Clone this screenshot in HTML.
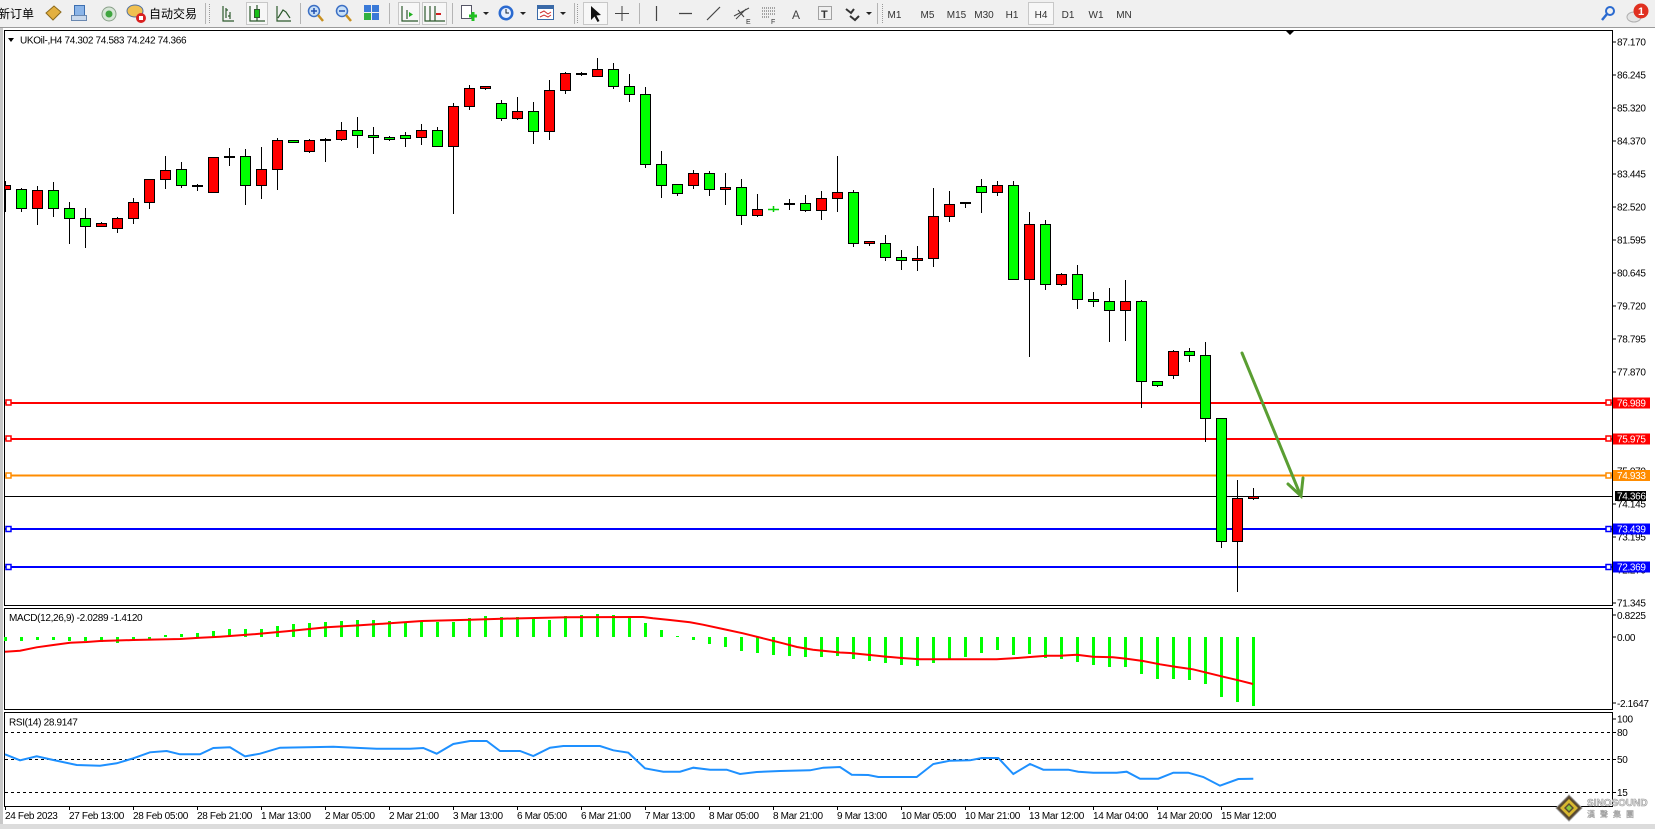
<!DOCTYPE html>
<html><head><meta charset="utf-8">
<style>
html,body{margin:0;padding:0;background:#fff;}
body{width:1655px;height:829px;overflow:hidden;}
svg{display:block;}
text{font-family:"Liberation Sans","Noto Sans CJK SC",sans-serif;font-size:10px;letter-spacing:-0.33px;fill:#000;}
.tb{font-size:10px;fill:#333;letter-spacing:0;}
.cj{font-size:12px;letter-spacing:0;}
.wl{fill:#fff;}
</style></head>
<body>
<svg width="1655" height="829" viewBox="0 0 1655 829" xmlns="http://www.w3.org/2000/svg">
<defs>
<clipPath id="cm"><rect x="5" y="31" width="1607" height="574"/></clipPath>
</defs>
<rect width="1655" height="829" fill="#fff"/>
<!-- toolbar -->
<rect x="0" y="0" width="1655" height="27" fill="#f0f0f0"/>
<line x1="0" y1="27.5" x2="1655" y2="27.5" stroke="#9a9a9a"/>
<text class="cj" x="-2" y="18">新订单</text>
<polygon points="46,13 54,6 61,12 53,20" fill="#e3b040" stroke="#8c6a1c"/>
<rect x="74.5" y="5.5" width="10" height="10" fill="#8ab4e8" stroke="#3d6fb0"/>
<rect x="71.5" y="15.5" width="15" height="5" fill="#c8d8ec" stroke="#6a88b0"/>
<circle cx="109" cy="14" r="7" fill="#d6e6d6" stroke="#8aa08a"/>
<circle cx="109" cy="14" r="3.5" fill="#3fa53f"/>
<ellipse cx="135" cy="11" rx="8" ry="6" fill="#f0c050" stroke="#5070a0"/>
<circle cx="141" cy="18" r="5" fill="#d92020"/>
<rect x="139" y="16" width="4" height="4" fill="#fff"/>
<text class="cj" x="149" y="18">自动交易</text>
<g stroke="#b4b4b4"><line x1="205.5" y1="3" x2="205.5" y2="24"/><line x1="300.5" y1="3" x2="300.5" y2="24"/><line x1="389.5" y1="3" x2="389.5" y2="24"/><line x1="452.5" y1="3" x2="452.5" y2="24"/><line x1="574.5" y1="3" x2="574.5" y2="24"/><line x1="639.5" y1="3" x2="639.5" y2="24"/><line x1="877.5" y1="3" x2="877.5" y2="24"/></g>
<g stroke="#999" stroke-dasharray="1 1"><line x1="209.5" y1="4" x2="209.5" y2="24"/><line x1="577.5" y1="4" x2="577.5" y2="24"/><line x1="882.5" y1="4" x2="882.5" y2="24"/></g>
<g fill="#f7f7f7" stroke="#c8c8c8"><rect x="246.5" y="2.5" width="21" height="22"/><rect x="398.5" y="2.5" width="21" height="22"/><rect x="422.5" y="2.5" width="24" height="22"/><rect x="583.5" y="2.5" width="24" height="22"/><rect x="1028.5" y="2.5" width="25" height="22"/></g>
<g stroke="#2d5a2d" stroke-width="1.2" fill="none">
<path d="M223 6V21H234M226 8V18M226 10H228M230 12V19M228 16H230"/>
<path d="M250 6V21H265M257 5V21"/>
<path d="M277 6V21H291M278 18L283 10L286 12L290 18"/>
<path d="M402 6V21H418M407 10V19"/>
<path d="M425 6V21H445M430 6V21M435 6V21"/>
</g>
<rect x="254.5" y="9.5" width="5" height="8" fill="#18c018" stroke="#2d5a2d"/>
<polygon points="409,12 413,14.5 409,17" fill="#20b020"/>
<line x1="436" y1="14" x2="441" y2="14" stroke="#d02020" stroke-width="2"/>
<circle cx="314" cy="11" r="5.5" fill="#c8e0f8" stroke="#3b6fc4" stroke-width="1.5"/><line x1="318" y1="15" x2="323" y2="21" stroke="#c89020" stroke-width="2.5"/><path d="M311 11H317M314 8V14" stroke="#2050b0" stroke-width="1.5"/>
<circle cx="342" cy="11" r="5.5" fill="#c8e0f8" stroke="#3b6fc4" stroke-width="1.5"/><line x1="346" y1="15" x2="351" y2="21" stroke="#c89020" stroke-width="2.5"/><path d="M339 11H345" stroke="#2050b0" stroke-width="1.5"/>
<rect x="364" y="5" width="7" height="7" fill="#3a7ad8"/><rect x="372" y="5" width="7" height="7" fill="#3a7ad8"/><rect x="364" y="13" width="7" height="7" fill="#30b040"/><rect x="372" y="13" width="7" height="7" fill="#3a7ad8"/>
<rect x="461.5" y="5.5" width="10" height="13" fill="#fff" stroke="#556"/><path d="M469 16H477M473 12V21" stroke="#20c020" stroke-width="3"/>
<polygon points="483,12 489,12 486,15" fill="#222"/>
<circle cx="506" cy="13" r="7.5" fill="#2a6ad0"/><circle cx="506" cy="13" r="5" fill="#e8f0ff"/><path d="M506 9V13H509" stroke="#123" fill="none"/>
<polygon points="520,12 526,12 523,15" fill="#222"/>
<rect x="537.5" y="5.5" width="16" height="14" fill="#fff" stroke="#3a6aa8"/><rect x="538" y="6" width="15" height="3" fill="#3a6aa8"/><path d="M540 13L544 11L548 14L551 12M540 17L544 15L548 17L551 15" stroke="#d03030" fill="none"/>
<polygon points="560,12 566,12 563,15" fill="#222"/>
<polygon points="591,6 591,20 594.5,16.5 597.5,22 599.5,21 596.5,15.5 601,15" fill="#111"/>
<path d="M615 13.5H629M622 6V21" stroke="#444"/>
<path d="M656.5 6V21M679 13.5H692M707 20L720 7" stroke="#444" stroke-width="1.2"/>
<path d="M734 16L749 8M736 19L746 9M738 10L744 17" stroke="#444"/><text class="tb" x="746" y="24" style="font-size:7px">E</text>
<path d="M762 8H776M762 11H776M762 14H776M762 17H770" stroke="#555" stroke-dasharray="1 1"/><text class="tb" x="771" y="24" style="font-size:7px">F</text>
<text class="tb" x="792" y="19" style="font-size:12px;fill:#444">A</text>
<rect x="818.5" y="6.5" width="13" height="13" fill="none" stroke="#555" stroke-dasharray="1 1"/><text class="tb" x="821" y="18" style="font-size:11px;fill:#333;font-weight:bold">T</text>
<path d="M846 9L851 13L854 9M850 16L855 20L859 16" stroke="#333" stroke-width="2" fill="none"/>
<polygon points="866,12 872,12 869,15" fill="#222"/>
<g text-anchor="middle"><text class="tb" x="894.5" y="18">M1</text><text class="tb" x="927.5" y="18">M5</text><text class="tb" x="956.5" y="18">M15</text><text class="tb" x="984" y="18">M30</text><text class="tb" x="1012" y="18">H1</text><text class="tb" x="1041" y="18">H4</text><text class="tb" x="1068" y="18">D1</text><text class="tb" x="1096" y="18">W1</text><text class="tb" x="1124" y="18">MN</text></g>
<circle cx="1610" cy="11" r="4" fill="none" stroke="#2a6ad0" stroke-width="2"/><line x1="1607" y1="14" x2="1602" y2="20" stroke="#2a6ad0" stroke-width="2.5"/>
<ellipse cx="1634" cy="17" rx="7" ry="5" fill="#e4e4e4" stroke="#b0b0b0"/>
<circle cx="1641" cy="11" r="7.5" fill="#e03020"/><text x="1641" y="15" text-anchor="middle" style="fill:#fff;font-weight:bold;font-size:11px;letter-spacing:0">1</text>

<!-- left and bottom gray strips -->
<rect x="0" y="28" width="3" height="801" fill="#c8c8c8"/>
<rect x="0" y="824" width="1655" height="5" fill="#dcdcdc"/>

<!-- pane frames -->
<g fill="none" stroke="#000">
<rect x="4.5" y="30.5" width="1608" height="575"/>
<rect x="4.5" y="608.5" width="1608" height="101"/>
<rect x="4.5" y="712.5" width="1608" height="94"/>
</g>
<polygon points="1286,31 1294,31 1290,35" fill="#000"/>

<!-- header -->
<polygon points="8,38 14,38 11,42" fill="#000"/>
<text x="20" y="43.5">UKOil-,H4  74.302 74.583 74.242 74.366</text>

<!-- price axis -->
<g stroke="#000">
<path d="M1613 42H1616M1613 75H1616M1613 108H1616M1613 141H1616M1613 174H1616M1613 207H1616M1613 240H1616M1613 273H1616M1613 306H1616M1613 339H1616M1613 372H1616M1613 405H1616M1613 438H1616M1613 471H1616M1613 504H1616M1613 537H1616M1613 570H1616M1613 603H1616"/>
</g>
<g>
<text x="1617" y="45.5">87.170</text>
<text x="1617" y="78.5">86.245</text>
<text x="1617" y="111.5">85.320</text>
<text x="1617" y="144.5">84.370</text>
<text x="1617" y="177.5">83.445</text>
<text x="1617" y="210.5">82.520</text>
<text x="1617" y="243.5">81.595</text>
<text x="1617" y="276.5">80.645</text>
<text x="1617" y="309.5">79.720</text>
<text x="1617" y="342.5">78.795</text>
<text x="1617" y="375.5">77.870</text>
<text x="1617" y="408.5">76.920</text>
<text x="1617" y="441.5">75.995</text>
<text x="1617" y="474.5">75.070</text>
<text x="1617" y="507.5">74.145</text>
<text x="1617" y="540.5">73.195</text>
<text x="1617" y="573.5">72.270</text>
<text x="1617" y="606.5">71.345</text>
</g>

<!-- horizontal level lines -->
<line x1="5" y1="403" x2="1612" y2="403" stroke="#ff0000" stroke-width="2"/>
<line x1="5" y1="439" x2="1612" y2="439" stroke="#ff0000" stroke-width="2"/>
<line x1="5" y1="475.5" x2="1612" y2="475.5" stroke="#ff8c00" stroke-width="2"/>
<line x1="5" y1="496.5" x2="1612" y2="496.5" stroke="#000" stroke-width="1"/>
<line x1="5" y1="529" x2="1612" y2="529" stroke="#0000ff" stroke-width="2"/>
<line x1="5" y1="567" x2="1612" y2="567" stroke="#0000ff" stroke-width="2"/>
<g fill="#fff" stroke-width="1.5">
<rect x="6" y="400" width="5" height="5" stroke="#ff0000"/><rect x="1606" y="400" width="5" height="5" stroke="#ff0000"/>
<rect x="6" y="436" width="5" height="5" stroke="#ff0000"/><rect x="1606" y="436" width="5" height="5" stroke="#ff0000"/>
<rect x="6" y="473" width="5" height="5" stroke="#ff8c00"/><rect x="1606" y="473" width="5" height="5" stroke="#ff8c00"/>
<rect x="6" y="526.5" width="5" height="5" stroke="#0000ff"/><rect x="1606" y="526.5" width="5" height="5" stroke="#0000ff"/>
<rect x="6" y="564.5" width="5" height="5" stroke="#0000ff"/><rect x="1606" y="564.5" width="5" height="5" stroke="#0000ff"/>
</g>
<rect x="1613" y="397.5" width="37" height="11" fill="#ff0000"/><text class="wl" x="1617" y="406.5">76.989</text>
<rect x="1613" y="433.5" width="37" height="11" fill="#ff0000"/><text class="wl" x="1617" y="442.5">75.975</text>
<rect x="1613" y="470" width="37" height="11" fill="#ff8c00"/><text class="wl" x="1617" y="479">74.933</text>
<rect x="1615" y="491" width="31" height="10" fill="#000"/><text class="wl" x="1617" y="499.5">74.366</text>
<rect x="1613" y="523.5" width="37" height="11" fill="#0000ff"/><text class="wl" x="1617" y="532.5">73.439</text>
<rect x="1613" y="561.5" width="37" height="11" fill="#0000ff"/><text class="wl" x="1617" y="570.5">72.369</text>

<!-- candles -->
<g clip-path="url(#cm)">
<path stroke="#000" stroke-width="1" fill="none" d="M5.5 181V212M21.5 188V212M37.5 186V225M53.5 182V217M69.5 202V244M85.5 208V248M101.5 222V226M117.5 217V233M133.5 198V224M149.5 179V209M165.5 156V189M181.5 162V188M197.5 184V191M213.5 157V192M229.5 148V166M245.5 149V205M261.5 147V199M277.5 138V190M293.5 140V143M309.5 139V153M325.5 138V162M341.5 122V141M357.5 117V148M373.5 127V154M389.5 136V141M405.5 132V147M421.5 124V145M437.5 127V147M453.5 103V214M469.5 85V110M485.5 86V90M501.5 100V121M517.5 97V120M533.5 102V144M549.5 80V140M565.5 72V94M581.5 72V76M597.5 58V77M613.5 63V89M629.5 74V102M645.5 87V168M661.5 151V198M677.5 184V196M693.5 170V189M709.5 171V196M725.5 173V205M741.5 179V225M757.5 194V217M789.5 199V210M805.5 195V212M821.5 191V220M837.5 156V212M853.5 190V247M869.5 241V246M885.5 235V261M901.5 250V270M917.5 246V271M933.5 188V267M949.5 191V222M965.5 202V208M981.5 179V213M997.5 181V196M1013.5 181V279M1029.5 212V357M1045.5 220V290M1061.5 273V286M1077.5 265V309M1093.5 292V307M1109.5 288V342M1125.5 280V341M1141.5 300V408M1157.5 381V387M1173.5 350V379M1189.5 348V362M1205.5 342V442M1221.5 418V548M1237.5 480V592M1253.5 488V500"/>
<g fill="#ff0000" stroke="#000" stroke-width="1">
<rect x="0.5" y="185.5" width="10" height="4"/>
<rect x="32.5" y="190.5" width="10" height="18"/>
<rect x="96.5" y="223.5" width="10" height="3"/>
<rect x="112.5" y="218.5" width="10" height="10"/>
<rect x="128.5" y="202.5" width="10" height="16"/>
<rect x="144.5" y="179.5" width="10" height="23"/>
<rect x="160.5" y="170.5" width="10" height="9"/>
<rect x="208.5" y="157.5" width="10" height="35"/>
<rect x="256.5" y="169.5" width="10" height="16"/>
<rect x="272.5" y="140.5" width="10" height="29"/>
<rect x="304.5" y="140.5" width="10" height="11"/>
<rect x="336.5" y="130.5" width="10" height="9"/>
<rect x="416.5" y="130.5" width="10" height="7"/>
<rect x="448.5" y="106.5" width="10" height="40"/>
<rect x="464.5" y="88.5" width="10" height="18"/>
<rect x="480.5" y="86.5" width="10" height="2"/>
<rect x="512.5" y="111.5" width="10" height="7"/>
<rect x="544.5" y="90.5" width="10" height="41"/>
<rect x="560.5" y="73.5" width="10" height="17"/>
<rect x="592.5" y="69.5" width="10" height="7"/>
<rect x="688.5" y="173.5" width="10" height="12"/>
<rect x="720.5" y="187.5" width="10" height="2"/>
<rect x="752.5" y="209.5" width="10" height="6"/>
<rect x="816.5" y="198.5" width="10" height="12"/>
<rect x="832.5" y="192.5" width="10" height="6"/>
<rect x="864.5" y="241.5" width="10" height="2"/>
<rect x="912.5" y="258.5" width="10" height="2"/>
<rect x="928.5" y="216.5" width="10" height="42"/>
<rect x="944.5" y="204.5" width="10" height="12"/>
<rect x="992.5" y="185.5" width="10" height="7"/>
<rect x="1024.5" y="224.5" width="10" height="55"/>
<rect x="1056.5" y="274.5" width="10" height="10"/>
<rect x="1120.5" y="301.5" width="10" height="9"/>
<rect x="1168.5" y="351.5" width="10" height="24"/>
<rect x="1232.5" y="498.5" width="10" height="43"/>
<rect x="1248.5" y="496.5" width="10" height="2"/>
</g>
<g fill="#00ff00" stroke="#000" stroke-width="1">
<rect x="16.5" y="189.5" width="10" height="19"/>
<rect x="48.5" y="190.5" width="10" height="18"/>
<rect x="64.5" y="208.5" width="10" height="10"/>
<rect x="80.5" y="218.5" width="10" height="8"/>
<rect x="176.5" y="169.5" width="10" height="16"/>
<rect x="240.5" y="156.5" width="10" height="29"/>
<rect x="288.5" y="140.5" width="10" height="2"/>
<rect x="352.5" y="130.5" width="10" height="5"/>
<rect x="368.5" y="135.5" width="10" height="2"/>
<rect x="384.5" y="137.5" width="10" height="2"/>
<rect x="400.5" y="135.5" width="10" height="3"/>
<rect x="432.5" y="130.5" width="10" height="16"/>
<rect x="496.5" y="103.5" width="10" height="15"/>
<rect x="528.5" y="111.5" width="10" height="20"/>
<rect x="608.5" y="69.5" width="10" height="17"/>
<rect x="624.5" y="86.5" width="10" height="8"/>
<rect x="640.5" y="94.5" width="10" height="70"/>
<rect x="656.5" y="164.5" width="10" height="21"/>
<rect x="672.5" y="184.5" width="10" height="9"/>
<rect x="704.5" y="173.5" width="10" height="16"/>
<rect x="736.5" y="187.5" width="10" height="28"/>
<rect x="800.5" y="203.5" width="10" height="7"/>
<rect x="848.5" y="192.5" width="10" height="51"/>
<rect x="880.5" y="243.5" width="10" height="14"/>
<rect x="896.5" y="257.5" width="10" height="3"/>
<rect x="976.5" y="186.5" width="10" height="6"/>
<rect x="1008.5" y="185.5" width="10" height="94"/>
<rect x="1040.5" y="224.5" width="10" height="60"/>
<rect x="1072.5" y="274.5" width="10" height="25"/>
<rect x="1088.5" y="299.5" width="10" height="2"/>
<rect x="1104.5" y="301.5" width="10" height="9"/>
<rect x="1136.5" y="301.5" width="10" height="80"/>
<rect x="1152.5" y="381.5" width="10" height="4"/>
<rect x="1184.5" y="351.5" width="10" height="4"/>
<rect x="1200.5" y="355.5" width="10" height="63"/>
<rect x="1216.5" y="418.5" width="10" height="123"/>
</g>
<g fill="#000" stroke="#000" stroke-width="1">
<rect x="192.5" y="185.5" width="10" height="1"/>
<rect x="224.5" y="156.5" width="10" height="1"/>
<rect x="320.5" y="139.5" width="10" height="1"/>
<rect x="576.5" y="73.5" width="10" height="1"/>
<rect x="784.5" y="203.5" width="10" height="1"/>
<rect x="960.5" y="202.5" width="10" height="1"/>
</g>
<path d="M768 209.5H779M773.5 206V212" stroke="#00d000" stroke-width="1.5"/>
</g>

<!-- green arrow -->
<g stroke="#5a9e32" stroke-width="3" fill="none" stroke-linecap="round">
<line x1="1242" y1="353" x2="1300" y2="494"/>
<polyline points="1288,484 1301,496 1303,478"/>
</g>

<!-- MACD pane -->
<text x="9" y="621">MACD(12,26,9) -2.0289 -1.4120</text>
<path fill="#00ff00" d="M4 637h3v4h-3zM20 637h3v4h-3zM36 637h3v3h-3zM52 637h3v3h-3zM68 637h3v4h-3zM84 637h3v4h-3zM100 637h3v5h-3zM116 637h3v6h-3zM132 637h3v4h-3zM148 637h3v3h-3zM164 637h3v-2h-3zM180 637h3v-3h-3zM196 637h3v-4h-3zM212 637h3v-6h-3zM228 637h3v-8h-3zM244 637h3v-8h-3zM260 637h3v-8h-3zM276 637h3v-11h-3zM292 637h3v-13h-3zM308 637h3v-14h-3zM324 637h3v-15h-3zM340 637h3v-16h-3zM356 637h3v-17h-3zM372 637h3v-17h-3zM388 637h3v-16h-3zM404 637h3v-15h-3zM420 637h3v-15h-3zM436 637h3v-15h-3zM452 637h3v-15h-3zM468 637h3v-19h-3zM484 637h3v-21h-3zM500 637h3v-20h-3zM516 637h3v-20h-3zM532 637h3v-18h-3zM548 637h3v-17h-3zM564 637h3v-21h-3zM580 637h3v-22h-3zM596 637h3v-23h-3zM612 637h3v-22h-3zM628 637h3v-19h-3zM644 637h3v-14h-3zM660 637h3v-7h-3zM676 637h3v-1h-3zM692 637h3v3h-3zM708 637h3v7h-3zM724 637h3v10h-3zM740 637h3v14h-3zM756 637h3v16h-3zM772 637h3v18h-3zM788 637h3v19h-3zM804 637h3v20h-3zM820 637h3v20h-3zM836 637h3v19h-3zM852 637h3v22h-3zM868 637h3v24h-3zM884 637h3v26h-3zM900 637h3v28h-3zM916 637h3v29h-3zM932 637h3v26h-3zM948 637h3v22h-3zM964 637h3v20h-3zM980 637h3v16h-3zM996 637h3v13h-3zM1012 637h3v18h-3zM1028 637h3v17h-3zM1044 637h3v21h-3zM1060 637h3v22h-3zM1076 637h3v25h-3zM1092 637h3v28h-3zM1108 637h3v30h-3zM1124 637h3v30h-3zM1140 637h3v37h-3zM1156 637h3v42h-3zM1172 637h3v42h-3zM1188 637h3v43h-3zM1204 637h3v47h-3zM1220 637h3v60h-3zM1236 637h3v65h-3zM1252 637h3v69h-3z"/>
<polyline fill="none" stroke="#ff0000" stroke-width="2" points="5,651.7 20,650.7 36.7,647.3 53.3,645 70,642.7 86.7,642 100,641 133.3,640 180,639 200,637.7 220,636.7 253.3,634.3 286.7,631.3 306.7,629.3 326.7,627.3 360,625.3 393.3,623 422,621 470,619.7 502,618.7 567,617.3 643,617 653,618.3 670,620 690,622.3 703,624.7 723,629 743,633.3 763,638.3 783,643.3 797,647 813,649.7 840,652.5 850,653 870,655 886.7,656.7 901.7,658 920,659.3 996.7,659.3 1013,658.3 1030,657 1046.7,655.7 1060,655.7 1076.7,654.7 1093,656.7 1113,657.3 1126.7,658.7 1143,661 1160,664.3 1176.7,667 1193,669.3 1206.7,672.7 1223,676.7 1240,680.7 1253,684"/>
<path d="M1613 615H1616M1613 637H1616M1613 703H1616" stroke="#000"/>
<text x="1617" y="619">0.8225</text>
<text x="1617" y="641">0.00</text>
<text x="1617" y="707">-2.1647</text>

<!-- RSI pane -->
<text x="9" y="725.5">RSI(14) 28.9147</text>
<g stroke="#000" stroke-dasharray="3 3"><line x1="5" y1="732.5" x2="1612" y2="732.5"/><line x1="5" y1="759.5" x2="1612" y2="759.5"/><line x1="5" y1="792.5" x2="1612" y2="792.5"/></g>
<polyline fill="none" stroke="#1e90ff" stroke-width="2" points="5,754.3 20,760.3 36.7,756.3 53.3,760 76.7,765 100,765.7 116.7,763.3 133.3,758.3 150,752.3 166.7,751 180,754.3 200,754.3 213.3,748 230,747.3 245,756.3 260,753.7 280,747.7 333.3,746.7 376.7,748.7 410,748.7 423.3,748 436.7,753.7 453.3,744 470,741 486.7,741 500,751 520,751 533.3,756 550,747.7 563.3,746 600,746 613.3,750.3 628.3,752.7 645,768.3 663.3,771.7 680,771.7 693.3,767.7 710,769.7 726.7,769.7 740,774 756.7,772 780,771 810,770.3 823.3,767.7 840,767 851.7,774.7 868.3,775 878.3,777 916.7,777 933.3,764 950,760.7 970,760.3 981.7,758 998.3,758 1013.3,774 1030,764 1043.3,769.7 1068.3,769.7 1078.3,771.7 1093.3,772.7 1116.7,772.7 1126.7,771.7 1140,778.7 1158.3,778.7 1173.3,772.7 1188.3,772.7 1203.3,777 1220,785.7 1238.3,779 1253.3,778.7"/>
<path d="M1613 719H1616M1613 732.5H1616M1613 759.5H1616M1613 792.5H1616" stroke="#000"/>
<text x="1617" y="722.5">100</text>
<text x="1617" y="736">80</text>
<text x="1617" y="763">50</text>
<text x="1617" y="796">15</text>

<!-- time axis -->
<path stroke="#000" d="M5.5 807V810M69.5 807V810M133.5 807V810M197.5 807V810M261.5 807V810M325.5 807V810M389.5 807V810M453.5 807V810M517.5 807V810M581.5 807V810M645.5 807V810M709.5 807V810M773.5 807V810M837.5 807V810M901.5 807V810M965.5 807V810M1029.5 807V810M1093.5 807V810M1157.5 807V810M1221.5 807V810"/>
<g>
<text x="5" y="819">24 Feb 2023</text>
<text x="69" y="819">27 Feb 13:00</text>
<text x="133" y="819">28 Feb 05:00</text>
<text x="197" y="819">28 Feb 21:00</text>
<text x="261" y="819">1 Mar 13:00</text>
<text x="325" y="819">2 Mar 05:00</text>
<text x="389" y="819">2 Mar 21:00</text>
<text x="453" y="819">3 Mar 13:00</text>
<text x="517" y="819">6 Mar 05:00</text>
<text x="581" y="819">6 Mar 21:00</text>
<text x="645" y="819">7 Mar 13:00</text>
<text x="709" y="819">8 Mar 05:00</text>
<text x="773" y="819">8 Mar 21:00</text>
<text x="837" y="819">9 Mar 13:00</text>
<text x="901" y="819">10 Mar 05:00</text>
<text x="965" y="819">10 Mar 21:00</text>
<text x="1029" y="819">13 Mar 12:00</text>
<text x="1093" y="819">14 Mar 04:00</text>
<text x="1157" y="819">14 Mar 20:00</text>
<text x="1221" y="819">15 Mar 12:00</text>
</g>

<!-- watermark -->
<polygon points="1569,795 1582,808 1569,821 1556,808" fill="#5a4a30" stroke="#9a9a9a"/>
<polygon points="1569,799 1578,808 1569,817 1560,808" fill="#d8b830"/>
<polygon points="1569,803 1574,808 1569,813 1564,808" fill="#5a4a30"/>
<polygon points="1569,805 1572,808 1569,811 1566,808" fill="#8ac83a"/>
<text x="1587" y="806" style="font-size:10px;font-weight:bold;letter-spacing:0;fill:#e8e8e8;stroke:#9a9a9a;stroke-width:0.6">SINOSOUND</text>
<text x="1587" y="817" style="font-size:8px;letter-spacing:5px;fill:#e0e0e0;stroke:#a0a0a0;stroke-width:0.4">漢聲集團</text>
</svg>
</body></html>
